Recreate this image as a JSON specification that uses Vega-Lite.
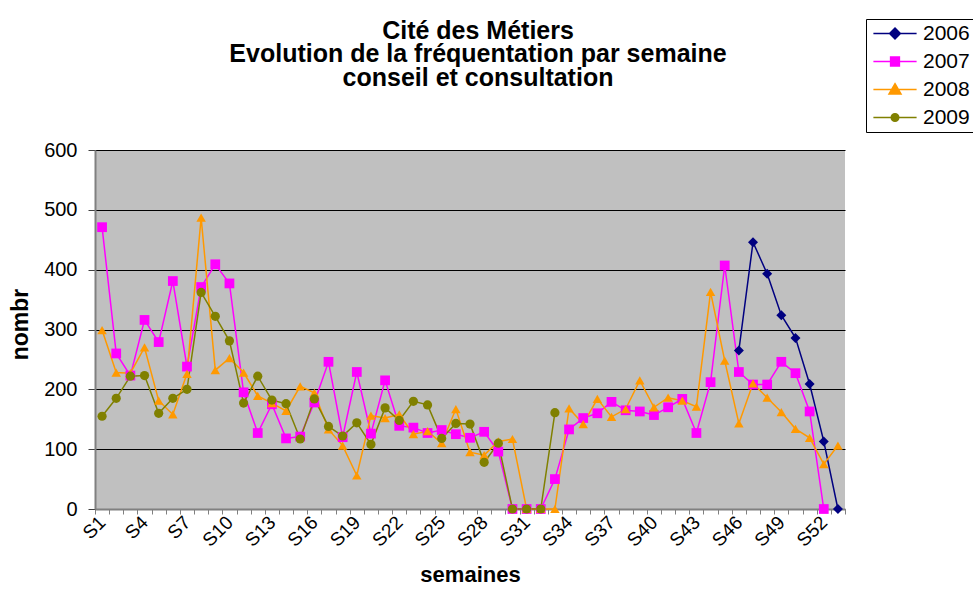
{
  "$schema": "https://vega.github.io/schema/vega-lite/v6.json",
  "width": 750,
  "height": 359,
  "autosize": {"type": "none"},
  "padding": {"left": 95, "top": 150, "right": 128, "bottom": 89},
  "background": "white",
  "config": {
    "font": "Liberation Sans",
    "view": {"stroke": null, "fill": "#C0C0C0"}
  },
  "title": {
    "text": ["Cité des Métiers", "Evolution de la fréquentation par semaine", "conseil et consultation"],
    "anchor": "middle",
    "frame": "group",
    "fontSize": 25,
    "fontWeight": "bold",
    "lineHeight": 23.5,
    "color": "black",
    "offset": 62,
    "dx": 8,
    "dy": 134
  },
  "data": {
    "values": [
      {"week": "S46", "year": "2006", "value": 265},
      {"week": "S47", "year": "2006", "value": 446},
      {"week": "S48", "year": "2006", "value": 393},
      {"week": "S49", "year": "2006", "value": 324},
      {"week": "S50", "year": "2006", "value": 286},
      {"week": "S51", "year": "2006", "value": 209},
      {"week": "S52", "year": "2006", "value": 113},
      {"week": "S53", "year": "2006", "value": 0},

      {"week": "S1", "year": "2007", "value": 471},
      {"week": "S2", "year": "2007", "value": 260},
      {"week": "S3", "year": "2007", "value": 223},
      {"week": "S4", "year": "2007", "value": 316},
      {"week": "S5", "year": "2007", "value": 279},
      {"week": "S6", "year": "2007", "value": 381},
      {"week": "S7", "year": "2007", "value": 238},
      {"week": "S8", "year": "2007", "value": 371},
      {"week": "S9", "year": "2007", "value": 409},
      {"week": "S10", "year": "2007", "value": 377},
      {"week": "S11", "year": "2007", "value": 195},
      {"week": "S12", "year": "2007", "value": 127},
      {"week": "S13", "year": "2007", "value": 175},
      {"week": "S14", "year": "2007", "value": 118},
      {"week": "S15", "year": "2007", "value": 121},
      {"week": "S16", "year": "2007", "value": 178},
      {"week": "S17", "year": "2007", "value": 246},
      {"week": "S18", "year": "2007", "value": 120},
      {"week": "S19", "year": "2007", "value": 229},
      {"week": "S20", "year": "2007", "value": 126},
      {"week": "S21", "year": "2007", "value": 215},
      {"week": "S22", "year": "2007", "value": 139},
      {"week": "S23", "year": "2007", "value": 136},
      {"week": "S24", "year": "2007", "value": 127},
      {"week": "S25", "year": "2007", "value": 132},
      {"week": "S26", "year": "2007", "value": 125},
      {"week": "S27", "year": "2007", "value": 119},
      {"week": "S28", "year": "2007", "value": 129},
      {"week": "S29", "year": "2007", "value": 96},
      {"week": "S30", "year": "2007", "value": 0},
      {"week": "S31", "year": "2007", "value": 0},
      {"week": "S32", "year": "2007", "value": 0},
      {"week": "S33", "year": "2007", "value": 50},
      {"week": "S34", "year": "2007", "value": 133},
      {"week": "S35", "year": "2007", "value": 152},
      {"week": "S36", "year": "2007", "value": 160},
      {"week": "S37", "year": "2007", "value": 179},
      {"week": "S38", "year": "2007", "value": 165},
      {"week": "S39", "year": "2007", "value": 163},
      {"week": "S40", "year": "2007", "value": 157},
      {"week": "S41", "year": "2007", "value": 170},
      {"week": "S42", "year": "2007", "value": 184},
      {"week": "S43", "year": "2007", "value": 127},
      {"week": "S44", "year": "2007", "value": 212},
      {"week": "S45", "year": "2007", "value": 407},
      {"week": "S46", "year": "2007", "value": 229},
      {"week": "S47", "year": "2007", "value": 208},
      {"week": "S48", "year": "2007", "value": 208},
      {"week": "S49", "year": "2007", "value": 246},
      {"week": "S50", "year": "2007", "value": 227},
      {"week": "S51", "year": "2007", "value": 163},
      {"week": "S52", "year": "2007", "value": 0},

      {"week": "S1", "year": "2008", "value": 299},
      {"week": "S2", "year": "2008", "value": 228},
      {"week": "S3", "year": "2008", "value": 227},
      {"week": "S4", "year": "2008", "value": 270},
      {"week": "S5", "year": "2008", "value": 181},
      {"week": "S6", "year": "2008", "value": 158},
      {"week": "S7", "year": "2008", "value": 226},
      {"week": "S8", "year": "2008", "value": 487},
      {"week": "S9", "year": "2008", "value": 232},
      {"week": "S10", "year": "2008", "value": 252},
      {"week": "S11", "year": "2008", "value": 228},
      {"week": "S12", "year": "2008", "value": 189},
      {"week": "S13", "year": "2008", "value": 177},
      {"week": "S14", "year": "2008", "value": 164},
      {"week": "S15", "year": "2008", "value": 205},
      {"week": "S16", "year": "2008", "value": 194},
      {"week": "S17", "year": "2008", "value": 133},
      {"week": "S18", "year": "2008", "value": 106},
      {"week": "S19", "year": "2008", "value": 56},
      {"week": "S20", "year": "2008", "value": 156},
      {"week": "S21", "year": "2008", "value": 152},
      {"week": "S22", "year": "2008", "value": 158},
      {"week": "S23", "year": "2008", "value": 125},
      {"week": "S24", "year": "2008", "value": 130},
      {"week": "S25", "year": "2008", "value": 110},
      {"week": "S26", "year": "2008", "value": 167},
      {"week": "S27", "year": "2008", "value": 95},
      {"week": "S28", "year": "2008", "value": 90},
      {"week": "S29", "year": "2008", "value": 113},
      {"week": "S30", "year": "2008", "value": 117},
      {"week": "S31", "year": "2008", "value": 0},
      {"week": "S32", "year": "2008", "value": 0},
      {"week": "S33", "year": "2008", "value": 0},
      {"week": "S34", "year": "2008", "value": 168},
      {"week": "S35", "year": "2008", "value": 142},
      {"week": "S36", "year": "2008", "value": 184},
      {"week": "S37", "year": "2008", "value": 154},
      {"week": "S38", "year": "2008", "value": 167},
      {"week": "S39", "year": "2008", "value": 215},
      {"week": "S40", "year": "2008", "value": 170},
      {"week": "S41", "year": "2008", "value": 186},
      {"week": "S42", "year": "2008", "value": 181},
      {"week": "S43", "year": "2008", "value": 171},
      {"week": "S44", "year": "2008", "value": 363},
      {"week": "S45", "year": "2008", "value": 248},
      {"week": "S46", "year": "2008", "value": 143},
      {"week": "S47", "year": "2008", "value": 210},
      {"week": "S48", "year": "2008", "value": 186},
      {"week": "S49", "year": "2008", "value": 162},
      {"week": "S50", "year": "2008", "value": 134},
      {"week": "S51", "year": "2008", "value": 119},
      {"week": "S52", "year": "2008", "value": 75},
      {"week": "S53", "year": "2008", "value": 106},

      {"week": "S1", "year": "2009", "value": 155},
      {"week": "S2", "year": "2009", "value": 185},
      {"week": "S3", "year": "2009", "value": 222},
      {"week": "S4", "year": "2009", "value": 223},
      {"week": "S5", "year": "2009", "value": 160},
      {"week": "S6", "year": "2009", "value": 185},
      {"week": "S7", "year": "2009", "value": 200},
      {"week": "S8", "year": "2009", "value": 362},
      {"week": "S9", "year": "2009", "value": 322},
      {"week": "S10", "year": "2009", "value": 281},
      {"week": "S11", "year": "2009", "value": 177},
      {"week": "S12", "year": "2009", "value": 222},
      {"week": "S13", "year": "2009", "value": 182},
      {"week": "S14", "year": "2009", "value": 176},
      {"week": "S15", "year": "2009", "value": 117},
      {"week": "S16", "year": "2009", "value": 184},
      {"week": "S17", "year": "2009", "value": 138},
      {"week": "S18", "year": "2009", "value": 122},
      {"week": "S19", "year": "2009", "value": 144},
      {"week": "S20", "year": "2009", "value": 108},
      {"week": "S21", "year": "2009", "value": 169},
      {"week": "S22", "year": "2009", "value": 148},
      {"week": "S23", "year": "2009", "value": 180},
      {"week": "S24", "year": "2009", "value": 174},
      {"week": "S25", "year": "2009", "value": 118},
      {"week": "S26", "year": "2009", "value": 143},
      {"week": "S27", "year": "2009", "value": 142},
      {"week": "S28", "year": "2009", "value": 78},
      {"week": "S29", "year": "2009", "value": 110},
      {"week": "S30", "year": "2009", "value": 0},
      {"week": "S31", "year": "2009", "value": 0},
      {"week": "S32", "year": "2009", "value": 0},
      {"week": "S33", "year": "2009", "value": 161}
    ]
  },
  "encoding": {
    "x": {
      "field": "week",
      "type": "nominal",
      "scale": {
        "domain": ["S1","S2","S3","S4","S5","S6","S7","S8","S9","S10","S11","S12","S13","S14","S15","S16","S17","S18","S19","S20","S21","S22","S23","S24","S25","S26","S27","S28","S29","S30","S31","S32","S33","S34","S35","S36","S37","S38","S39","S40","S41","S42","S43","S44","S45","S46","S47","S48","S49","S50","S51","S52","S53"],
        "paddingInner": 0,
        "paddingOuter": 0
      },
      "axis": {
        "title": "semaines",
        "titleFontSize": 22,
        "titleFontWeight": "bold",
        "titleColor": "black",
        "titleX": 375,
        "titleY": 72,
        "titleBaseline": "alphabetic",
        "tickBand": "extent",
        "tickSize": 5,
        "tickColor": "#808080",
        "domainColor": "#808080",
        "domainWidth": 2,
        "labelAngle": -45,
        "labelAlign": "right",
        "labelBaseline": "middle",
        "labelFontSize": 19,
        "labelColor": "black",
        "labelPadding": 5,
        "labelOverlap": false,
        "labelExpr": "(toNumber(substring(datum.label, 1)) % 3 == 1) ? datum.label : ''"
      }
    },
    "y": {
      "field": "value",
      "type": "quantitative",
      "scale": {"domain": [0, 600]},
      "axis": {
        "title": "nombr",
        "titleFontSize": 23,
        "titleFontWeight": "bold",
        "titleColor": "black",
        "titleAngle": -90,
        "titleX": -74.5,
        "titleY": 174,
        "titleAlign": "center",
        "titleBaseline": "middle",
        "values": [0, 100, 200, 300, 400, 500, 600],
        "grid": true,
        "gridColor": "black",
        "gridWidth": 1,
        "gridOpacity": 1,
        "tickSize": 7,
        "tickColor": "#404040",
        "domainColor": "#808080",
        "domainWidth": 2,
        "labelFontSize": 20,
        "labelColor": "black",
        "labelPadding": 11
      }
    }
  },
  "resolve": {
    "scale": {"shape": "independent"},
    "legend": {"shape": "independent", "fill": "independent", "stroke": "independent"}
  },
  "layer": [
    {
      "mark": {"type": "line", "strokeWidth": 1.5},
      "encoding": {
        "color": {
          "field": "year",
          "type": "nominal",
          "scale": {
            "domain": ["2006", "2007", "2008", "2009"],
            "range": ["#000080", "#FF00FF", "#FF9900", "#808000"]
          },
          "legend": null
        }
      }
    },
    {
      "mark": {"type": "point", "filled": true, "opacity": 1},
      "encoding": {
        "color": {
          "field": "year",
          "type": "nominal",
          "scale": {
            "domain": ["2006", "2007", "2008", "2009"],
            "range": ["#000080", "#FF00FF", "#FF9900", "#808000"]
          },
          "legend": null
        },
        "shape": {
          "field": "year",
          "type": "nominal",
          "scale": {
            "domain": ["2006", "2007", "2008", "2009"],
            "range": ["diamond", "square", "triangle-up", "circle"]
          },
          "legend": null
        },
        "size": {
          "field": "year",
          "type": "nominal",
          "scale": {
            "domain": ["2006", "2007", "2008", "2009"],
            "range": [100, 85, 130, 55]
          },
          "legend": null
        }
      }
    },
    {
      "transform": [{"filter": "datum.value < 0"}],
      "mark": {"type": "point", "filled": true, "opacity": 1, "strokeWidth": 1.5},
      "encoding": {
        "fill": {
          "field": "year",
          "type": "nominal",
          "scale": {
            "domain": ["2006", "2007", "2008", "2009"],
            "range": ["#000080", "#FF00FF", "#FF9900", "#808000"]
          },
          "legend": {
            "title": null,
            "orient": "none",
            "legendX": 771,
            "legendY": -131
          }
        },
        "stroke": {
          "field": "year",
          "type": "nominal",
          "scale": {
            "domain": ["2006", "2007", "2008", "2009"],
            "range": ["#000080", "#FF00FF", "#FF9900", "#808000"]
          },
          "legend": {
            "title": null,
            "orient": "none",
            "legendX": 771,
            "legendY": -131
          }
        },
        "shape": {
          "field": "year",
          "type": "nominal",
          "scale": {
            "domain": ["2006", "2007", "2008", "2009"],
            "range": [
              "M-5.4,0H5.4M0,-1.35L1.35,0L0,1.35L-1.35,0Z",
              "M-5.4,0H5.4M-1.1,-1.1H1.1V1.1H-1.1Z",
              "M-5.4,0H5.4M0,-1.45L1.5,1.1H-1.5Z",
              "M-5.4,0H5.4M-0.95,0A0.95,0.95,0,1,0,0.95,0A0.95,0.95,0,1,0,-0.95,0Z"
            ]
          },
          "legend": {
            "title": null,
            "orient": "none",
            "legendX": 771,
            "legendY": -131,
            "strokeColor": "black",
            "fillColor": "white",
            "padding": 4,
            "labelFontSize": 21,
            "labelColor": "black",
            "symbolSize": 64,
            "symbolOffset": 14.5,
            "labelOffset": 17.5,
            "rowPadding": 6,
            "symbolStrokeWidth": 1.5
          }
        }
      }
    }
  ]
}
